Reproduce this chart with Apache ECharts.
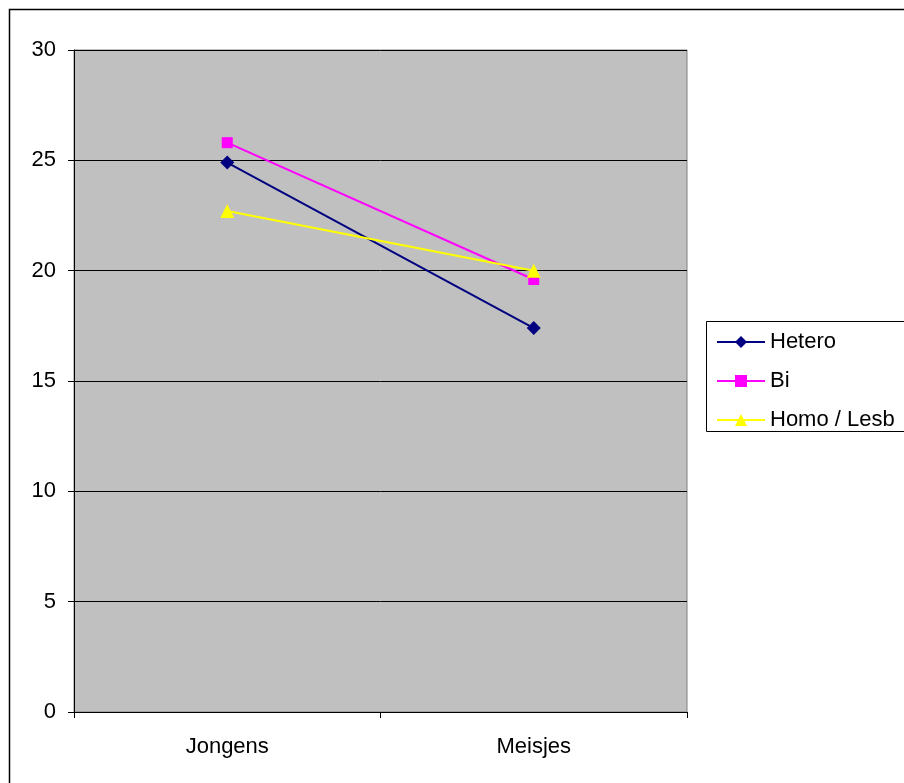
<!DOCTYPE html>
<html><head><meta charset="utf-8">
<script src="https://cdn.jsdelivr.net/npm/echarts@6/dist/echarts.min.js"></script>
<style>html,body{margin:0;padding:0;background:#fff}#c{width:904px;height:783px}</style>
</head><body><div id="c"></div>
<script>
const categories = ['Jongens', 'Meisjes'];
const seriesNames = ['Hetero', 'Bi', 'Homo / Lesb'];
const hetero = [24.9, 17.4];
const bi = [25.8, 19.6];
const homo = [22.7, 20.0];
const yTicks = [0, 5, 10, 15, 20, 25, 30];

const chart = echarts.init(document.getElementById('c'), null, {renderer: 'canvas'});
const font = 'Liberation Sans, Arial, sans-serif';
function mk(name, data, color, symbol, size) {
  return {
    name, type: 'line', data, symbol, symbolSize: size,
    lineStyle: {color, width: 2}, itemStyle: {color},
    animation: false
  };
}
chart.setOption({
  animation: false,
  backgroundColor: '#fff',
  graphic: [
    {type: 'rect', shape: {x: 9.5, y: 9.5, width: 1000, height: 1000}, style: {fill: 'none', stroke: '#000', lineWidth: 1.5}, z: 100},
    {type: 'rect', shape: {x: 706.5, y: 321.5, width: 300, height: 110}, style: {fill: '#fff', stroke: '#000', lineWidth: 1}, z: 1}
  ],
  grid: {left: 74, top: 50, right: 217, bottom: 71, show: true, backgroundColor: '#c0c0c0', borderColor: '#808080', borderWidth: 1},
  legend: {
    orient: 'vertical', left: 716, top: 330, itemGap: 15, padding: 0,
    itemWidth: 48, itemHeight: 15,
    textStyle: {fontFamily: font, fontSize: 22, lineHeight: 24, color: '#000', padding: [0, 0, 0, 0]},
    data: seriesNames, z: 5
  },
  xAxis: {
    type: 'category', data: categories, boundaryGap: true,
    axisLine: {lineStyle: {color: '#000', width: 1}},
    axisTick: {show: true, length: 6, lineStyle: {color: '#000'}},
    axisLabel: {fontFamily: font, fontSize: 22, color: '#000', margin: 24}
  },
  yAxis: {
    type: 'value', min: yTicks[0], max: yTicks[yTicks.length - 1], interval: 5,
    axisLine: {show: true, lineStyle: {color: '#000', width: 1}},
    axisTick: {show: true, length: 6, lineStyle: {color: '#000'}},
    axisLabel: {fontFamily: font, fontSize: 22, color: '#000', margin: 18},
    splitLine: {show: true, lineStyle: {color: '#000', width: 1}}
  },
  series: [
    mk(seriesNames[0], hetero, '#000080', 'diamond', 14),
    mk(seriesNames[1], bi, '#ff00ff', 'rect', 11),
    mk(seriesNames[2], homo, '#ffff00', 'triangle', 14)
  ]
});
</script></body></html>
